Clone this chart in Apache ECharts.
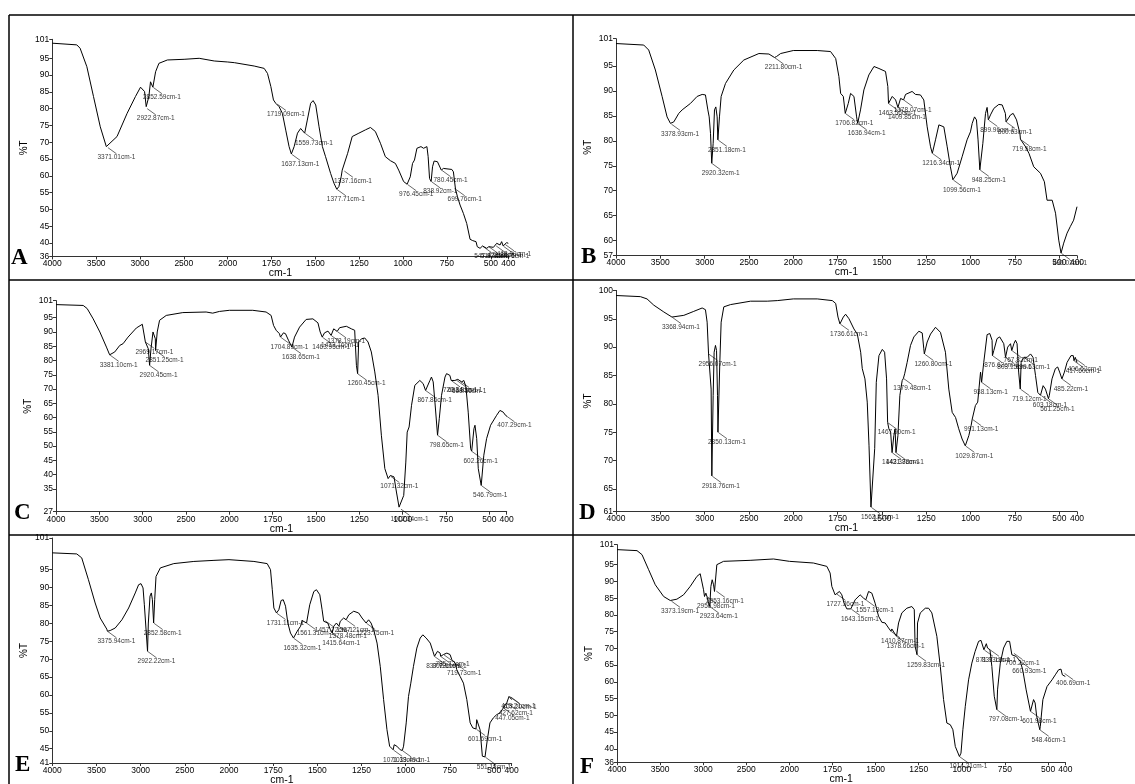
<!DOCTYPE html>
<html><head><meta charset="utf-8">
<script src="https://cdn.jsdelivr.net/npm/echarts@6/dist/echarts.min.js"></script>
<style>html,body{margin:0;padding:0;background:#fff}#c{width:1135px;height:784px}</style>
</head><body><div id="c"></div>
<script>
// ---------- DATA ----------
const xTicksHigh = [4000, 3500, 3000, 2500, 2000];
const xTicksLow = [1750, 1500, 1250, 1000, 750, 500, 400];
const panelLetters = ['A', 'B', 'C', 'D', 'E', 'F'];
const xName = 'cm-1';
const yName = '%T';

const yTicksA = [36,40,45,50,55,60,65,70,75,80,85,90,95]; const yTopA = '101';
const yTicksB = [57,60,65,70,75,80,85,90,95]; const yTopB = '101';
const yTicksC = [27,30,35,40,45,50,55,60,65,70,75,80,85,90,95]; const yTopC = '101';
const yTicksD = [61,65,70,75,80,85,90,95]; const yTopD = '100';
const yTicksE = [41,45,50,55,60,65,70,75,80,85,90,95]; const yTopE = '101';
const yTicksF = [36,40,45,50,55,60,65,70,75,80,85,90,95]; const yTopF = '101';

const specA = [[4000,99.5],[3721,99.0],[3683,98.0],[3606,92.5],[3530,83.6],[3453,74.6],[3384,68.7],[3371,68.5],[3262,71.7],[3147,78.6],[3052,83.6],[2994,86.4],[2975,86.4],[2948,85.1],[2929,80.6],[2918,80.1],[2899,83.6],[2880,88],[2868,88.5],[2853,86.4],[2842,86.8],[2822,91],[2784,93.5],[2688,94.5],[2497,94.7],[2325,95],[2153,94.2],[2000,93.9],[1962,93.7],[1849,92.7],[1792,92],[1773,90.5],[1754,86.6],[1739,82.6],[1726,81.6],[1719,81.4],[1707,80.6],[1688,78.6],[1669,73.6],[1650,68.7],[1637,66.5],[1621,68.7],[1602,72.7],[1584,74.1],[1574,74.6],[1561,72.7],[1555,73.2],[1546,76.6],[1527,81.6],[1513,82.4],[1498,81.1],[1479,74.6],[1460,68.7],[1442,65.7],[1413,60.7],[1394,57.8],[1378,56],[1366,56.8],[1353,59.7],[1347,61.7],[1341,62.2],[1337,61.5],[1316,66.7],[1290,71.7],[1252,72.7],[1214,73.7],[1186,74.4],[1158,73.2],[1129,69.7],[1101,65.7],[1072,64.5],[1044,63.7],[1025,61.7],[997,58.3],[977,57.5],[959,59.7],[946,63.7],[935,64.7],[921,68.2],[898,68.7],[883,68.2],[864,68.7],[857,65.7],[849,59.2],[840,58.3],[832,62.7],[823,64.4],[804,64.2],[793,63.7],[782,61.7],[770,62.2],[722,61.9],[713,61.2],[701,56],[690,53.8],[675,51.3],[656,48.8],[637,45.8],[618,41.1],[603,40.7],[584,40.4],[577,38.9],[561,38.4],[547,39.1],[523,38.4],[511,38.9],[485,38.7],[466,39.9],[447,39.4],[438,40.4],[429,39.1],[410,40.1],[400,39.9]];
const peaksA = [[3371.01,68.5],[2922.87,80.1],[2852.59,86.4],[1719.09,81.4],[1637.13,66.5],[1559.73,72.7],[1377.71,56],[1337.16,61.5],[976.45,57.5],[838.92,58.3],[780.45,61.7],[699.76,56],[547.92,39.1],[511.32,38.9],[471.26,39.2],[429.76,39.1],[418.90,39.6]];

const specB = [[4000,99.5],[3687,99.2],[3631,98.2],[3556,94.2],[3480,88.9],[3424,84.8],[3386,83.5],[3379,83.4],[3348,83.8],[3292,85.5],[3254,86.2],[3235,85.9],[3160,87.5],[3085,88.9],[3028,89.3],[2991,89.2],[2964,86.2],[2949,84.8],[2934,81.5],[2920,75.5],[2904,79.5],[2889,86.2],[2874,86.8],[2859,84.8],[2851,80.2],[2833,84.8],[2814,88.9],[2765,91.5],[2671,94.2],[2558,96.2],[2388,97.5],[2275,97.4],[2212,96.7],[2189,96.9],[2143,97.5],[2000,98.1],[1865,98.1],[1790,97.9],[1761,96.5],[1743,92.9],[1733,89.5],[1718,88.9],[1707,85.5],[1690,87.5],[1677,89.5],[1668,89.9],[1658,88.9],[1643,84.8],[1637,83.5],[1621,86.2],[1602,90.2],[1574,93.2],[1545,94.9],[1517,94.5],[1480,93.9],[1467,90.9],[1463,87.5],[1455,87.8],[1442,88.9],[1423,88.2],[1410,86.7],[1405,86.9],[1395,88.5],[1378,88.2],[1367,89.3],[1330,89.9],[1311,89.3],[1283,89.2],[1264,88.2],[1245,82.8],[1226,78.8],[1216,77.5],[1198,80.2],[1179,83.2],[1151,82.8],[1132,78.8],[1114,74.8],[1100,72.2],[1076,73.5],[1048,76.8],[1020,80.2],[1001,81.8],[991,83.5],[978,84.8],[967,84.2],[958,80.2],[948,74.2],[931,79.5],[916,85.5],[907,86.7],[900,84.2],[888,85.2],[869,86.5],[841,87.3],[822,87.2],[804,85.5],[800,83.8],[775,85.2],[760,85.5],[741,84.2],[722,81.5],[719,80.3],[709,79.8],[690,78.8],[671,77.5],[644,74.8],[606,73.5],[584,71.8],[569,68.1],[540,68.1],[521,65.5],[503,60.1],[490,57.5],[475,59.5],[456,61.5],[438,62.8],[419,64.1],[400,66.8]];
const peaksB = [[3378.93,83.4],[2920.32,75.5],[2851.18,80.2],[2211.80,96.7],[1706.82,85.5],[1636.94,83.5],[1463.56,87.5],[1409.85,86.7],[1378.07,88.2],[1216.34,77.5],[1099.56,72.2],[948.25,74.2],[899.96,84.2],[800.63,83.8],[719.58,80.3],[490.02,57.5]];

const specC = [[4000,99.6],[3686,99.3],[3640,98.2],[3571,94.6],[3494,90],[3418,84.7],[3381,82],[3322,83],[3264,85.3],[3226,85.9],[3169,88.2],[3073,91.4],[3004,92.7],[2988,92.4],[2969,86.5],[2950,86.9],[2935,84.1],[2920,78.3],[2904,84.1],[2881,90],[2870,90.3],[2854,87.6],[2851,83.5],[2832,90],[2805,94.1],[2728,95.8],[2537,96.8],[2268,97],[2192,96.6],[2115,97.2],[2000,97.6],[1865,97.6],[1788,97],[1759,95.8],[1745,92.3],[1730,90.6],[1711,89.4],[1705,88.2],[1688,89.7],[1676,89.4],[1659,87.1],[1639,84.7],[1624,88.2],[1595,91.7],[1557,94.4],[1518,94.6],[1489,93.2],[1476,90],[1464,88.2],[1451,89.7],[1431,90.3],[1413,88.8],[1398,91.1],[1378,90.2],[1364,91.5],[1325,92],[1296,91.1],[1277,90.6],[1267,78.3],[1260,75.4],[1254,86.5],[1238,87.6],[1219,87.9],[1200,86.5],[1181,83],[1161,76],[1142,67.8],[1123,53.8],[1103,42.1],[1084,38.6],[1071,39.7],[1050,39.2],[1036,33.9],[1021,28.6],[1012,28],[994,32.7],[982,44.4],[974,54.9],[963,56.7],[949,64.3],[930,71.3],[901,73],[882,71.9],[868,69.5],[843,73],[834,74.2],[824,72.5],[814,65.4],[799,53.8],[789,59.6],[776,67.8],[756,74.2],[747,75.4],[728,74.8],[720,73],[699,73],[682,73.4],[660,72.5],[647,73],[635,70.7],[622,61.9],[608,49.1],[602,48.2],[589,56.1],[583,57.3],[573,52.6],[564,42.1],[547,36.2],[532,46.8],[516,52.6],[493,57.3],[458,60.8],[439,62.5],[429,63.1],[420,61.9],[407,60.8],[400,60.5]];
const peaksC = [[3381.10,82],[2969.17,86.5],[2920.45,78.3],[2851.25,83.5],[1704.89,88.2],[1638.65,84.7],[1463.95,88.2],[1413.16,88.8],[1378.19,90.2],[1260.45,75.4],[1071.32,39.5],[1012.34,28],[867.86,69.5],[798.65,53.8],[720.34,73],[691.81,73.2],[668.56,72.8],[602.26,48.2],[546.79,36.2],[407.29,60.8]];

const specD = [[4000,99.1],[3725,98.9],[3650,98.5],[3574,97.4],[3461,96.2],[3369,95.3],[3348,95.3],[3235,95.6],[3123,96.3],[3028,96.9],[2991,96.6],[2972,94.4],[2956,88.8],[2942,88.5],[2927,82.6],[2919,67.3],[2904,81.5],[2893,89.1],[2878,90.3],[2866,89.4],[2855,81.5],[2850,75],[2829,87.3],[2814,94.4],[2784,97.1],[2708,97.5],[2482,98.1],[2294,98.1],[2181,98.2],[2000,98.5],[1865,98.5],[1780,98.2],[1761,97.7],[1748,95.3],[1737,94.1],[1718,95.3],[1705,95.8],[1686,95],[1658,93.2],[1639,92.3],[1620,89.1],[1611,86.2],[1596,84.4],[1583,80.3],[1573,72.6],[1562,61.8],[1551,61.8],[1541,72.1],[1532,83.8],[1517,88.5],[1498,89.6],[1485,89.1],[1474,84.4],[1468,76.7],[1461,75.6],[1451,75],[1443,71.4],[1433,74.4],[1426,75.6],[1421,71.4],[1410,74.4],[1399,81.5],[1386,84.1],[1379,84.5],[1372,85.3],[1358,87.3],[1339,90.3],[1320,91.8],[1292,92.8],[1273,92.5],[1264,89.7],[1261,88.8],[1245,90.9],[1226,92.3],[1198,93.5],[1170,92.6],[1142,89.1],[1123,82.6],[1104,78.5],[1085,77.6],[1067,75.6],[1048,73.8],[1030,72.6],[1010,74.4],[997,76.2],[991,77.3],[973,79.7],[960,80.3],[944,85.6],[938,83.8],[926,87.3],[907,92.2],[892,92.4],[879,91.2],[877,88.5],[869,89.4],[851,91.5],[836,91.8],[813,90.6],[803,88.2],[791,90],[775,90.6],[768,89.4],[756,90.6],[747,91.2],[738,90.6],[729,85.6],[720,82.6],[715,87.3],[700,88.2],[681,88.2],[662,88.8],[648,88.2],[634,85],[621,82],[606,81.5],[591,83.2],[578,82.6],[561,80.9],[556,81.5],[541,84.4],[522,86.2],[509,86.5],[498,85.6],[485,84.4],[471,85.6],[456,87.3],[434,88.5],[421,88.5],[417,87.6],[410,88.2],[406,87.9],[400,87.3]];
const peaksD = [[3368.94,95.3],[2956.07,88.8],[2918.76,67.3],[2850.13,75],[1736.61,94.1],[1562.21,61.8],[1467.90,76.7],[1443.38,71.4],[1421.78,71.4],[1379.48,84.5],[1260.80,88.8],[1029.87,72.6],[991.13,77.3],[938.13,83.8],[876.62,88.5],[803.15,88.2],[767.82,89.4],[719.12,82.6],[699.63,88.2],[603.18,81.5],[561.25,80.9],[485.22,84.4],[417.60,87.6],[406.62,87.9]];

const specE = [[4000,99.7],[3723,99.4],[3667,98.3],[3591,92.2],[3515,85.7],[3458,81.5],[3383,78.4],[3376,77.8],[3345,78],[3288,78.7],[3212,81],[3136,84.3],[3061,88.5],[3023,90.8],[2996,91.1],[2973,89.9],[2958,85.2],[2943,84.8],[2922,72.2],[2913,80.1],[2894,87.6],[2879,88.5],[2867,86.6],[2853,80.1],[2841,86.6],[2826,93.1],[2777,95.5],[2625,96.7],[2398,97.3],[2170,97.6],[2000,97.8],[1859,97.3],[1784,96.7],[1765,95],[1755,89.4],[1746,84.3],[1731,82.9],[1718,83.8],[1705,86.4],[1693,86.6],[1680,84.8],[1667,80.1],[1652,77.3],[1635,75.9],[1614,77.8],[1595,79.2],[1586,80.8],[1577,80.5],[1561,80.1],[1543,85.2],[1520,88.9],[1505,89.4],[1486,88],[1473,83.8],[1464,80.6],[1457,80.8],[1441,80.1],[1426,78.2],[1416,77.3],[1407,79.2],[1392,80.1],[1378,79.2],[1370,80.6],[1351,81.5],[1337,81],[1322,82.4],[1294,83.4],[1266,82.9],[1247,81.5],[1224,80.1],[1210,81],[1196,80.1],[1181,78.2],[1162,74.5],[1144,68],[1125,58.7],[1106,50.3],[1091,45.7],[1071,44.7],[1065,46.1],[1050,45.7],[1031,44.7],[1019,44.5],[1012,45.7],[997,52.2],[984,59.6],[971,63.3],[956,68],[937,73.1],[918,75.9],[903,76.8],[884,75.9],[861,74.5],[846,72.2],[837,70.8],[820,72.2],[805,71.7],[802,70.8],[786,71.3],[767,71.7],[749,71.3],[739,69.9],[720,68.9],[711,67.1],[692,65.2],[673,63.3],[654,58.7],[635,52.2],[620,50.8],[602,50.5],[598,53.1],[588,53.6],[579,50.3],[566,42.9],[551,42.7],[538,47.5],[523,52.2],[504,53.6],[485,54.5],[466,55],[447,56.4],[428,57.8],[415,59.6],[410,59.8],[400,58.7]];
const peaksE = [[3375.94,77.8],[2922.22,72.2],[2852.58,80.1],[1731.11,82.9],[1635.32,75.9],[1561.31,80.1],[1457.72,80.8],[1415.64,77.3],[1378.48,79.2],[1337.21,81],[1223.75,80.1],[1071.33,44.7],[1019.49,44.5],[837.72,70.8],[802.61,70.8],[785.72,71.3],[719.73,68.9],[601.69,50.5],[551.18,42.7],[447.05,56.4],[427.62,57.8],[413.21,59.6],[407.20,59.5]];

const specF = [[4000,99.5],[3768,99.2],[3710,98],[3633,93.5],[3556,89],[3459,85.5],[3382,84.3],[3373,84.2],[3305,84.7],[3228,86],[3151,88.5],[3073,91.5],[3035,92.3],[3015,92],[2996,87.5],[2985,85.5],[2969,86.5],[2957,85.5],[2938,83.5],[2924,82.5],[2911,88.5],[2896,90.5],[2880,89],[2869,87],[2853,87.2],[2842,95],[2764,96],[2456,96.3],[2185,96.7],[2000,96],[1861,95.5],[1783,94.5],[1764,92.5],[1754,88.5],[1735,86],[1727,86.3],[1710,87],[1696,86],[1683,83.5],[1667,81.8],[1644,81.8],[1619,84.5],[1590,86],[1570,85],[1557,84.5],[1541,87],[1522,86.5],[1503,83.5],[1483,79.6],[1464,77.8],[1445,77.6],[1425,76.1],[1411,75.1],[1406,75.8],[1396,75.6],[1379,73.6],[1367,77.6],[1348,80.6],[1319,82],[1290,82.5],[1276,81.6],[1271,70.6],[1260,68.1],[1257,77.6],[1241,80.6],[1212,82],[1193,82],[1174,80.6],[1145,73.6],[1125,64.6],[1106,54.7],[1087,47.7],[1067,47.2],[1052,45.7],[1038,40.7],[1014,37.7],[1005,38.7],[994,45.7],[980,52.7],[961,60.6],[942,65.6],[923,69.1],[903,72.1],[889,72.4],[872,69.6],[858,71.4],[851,70.1],[837,69.6],[826,64.6],[812,55.7],[797,51.7],[793,57.6],[777,65.6],[758,70.1],[739,72.1],[723,72.1],[710,68.1],[700,68.6],[685,67.6],[661,66.1],[647,63.6],[627,57.6],[602,51.2],[595,51.7],[584,54.7],[575,53.7],[566,49.7],[548,45.7],[545,46.7],[530,54.7],[506,58.6],[477,60.6],[458,62.1],[439,63.6],[425,63.8],[417,62.1],[407,62.6],[400,61.6]];
const peaksF = [[3373.19,84.2],[2956.98,85.5],[2923.64,82.5],[2853.16,87.2],[1727.36,86.3],[1643.15,81.8],[1557.13,84.5],[1410.87,75.1],[1378.66,73.6],[1259.83,68.1],[1014.21,37.7],[871.93,69.6],[837.13,69.6],[797.08,51.7],[700.22,68.6],[660.93,66.1],[601.98,51.2],[548.46,45.7],[406.69,62.6]];

// ---------- LAYOUT (pixel boxes & scale extents) ----------
const panels = [
  {spec: specA, peaks: peaksA, yTicks: yTicksA, yTop: yTopA, L: 52.3, R: 508.3, T: 39.3, B: 256.4, yMin: 36, yMax: 100.66, lx: 11, ly: 270},
  {spec: specB, peaks: peaksB, yTicks: yTicksB, yTop: yTopB, L: 616, R: 1077, T: 38.7, B: 255.6, yMin: 57, yMax: 100.47, lx: 581, ly: 269},
  {spec: specC, peaks: peaksC, yTicks: yTicksC, yTop: yTopC, L: 56, R: 506.7, T: 300.6, B: 511.7, yMin: 27, yMax: 101, lx: 14, ly: 525},
  {spec: specD, peaks: peaksD, yTicks: yTicksD, yTop: yTopD, L: 616, R: 1077, T: 290.4, B: 511.6, yMin: 61, yMax: 100, lx: 579, ly: 525},
  {spec: specE, peaks: peaksE, yTicks: yTicksE, yTop: yTopE, L: 52.3, R: 511.7, T: 538, B: 763, yMin: 41, yMax: 103.85, lx: 15, ly: 777},
  {spec: specF, peaks: peaksF, yTicks: yTicksF, yTop: yTopF, L: 617, R: 1065.3, T: 544.6, B: 762.2, yMin: 36, yMax: 101, lx: 580, ly: 779}
];

const FONT = 'Liberation Sans, Arial, sans-serif';
const axisColor = '#333';
const grid = [], xAxis = [], yAxis = [], series = [], graphic = [];

function peakSeries(data, gi) {
  return {
    type: 'scatter', xAxisIndex: gi, yAxisIndex: gi, data: data, silent: true,
    symbol: 'circle', symbolSize: 1, itemStyle: {color: 'rgba(0,0,0,0)'},
    label: {show: true, position: 'inside', fontSize: 6.5, color: '#000', fontFamily: FONT,
      formatter: p => p.value[0].toFixed(2) + 'cm-1'},
    labelLayout: {dx: 9, dy: 10},
    labelLine: {show: true, lineStyle: {color: '#000', width: 0.6}}
  };
}

const plain = v => String(v);

panels.forEach((p, i) => {
  const split = p.L + (p.R - p.L) * 5 / 13;
  const gi = i * 2;
  const h = p.B - p.T;
  grid.push({left: p.L, top: p.T, width: split - p.L, height: h});
  grid.push({left: split, top: p.T, width: p.R - split, height: h});
  const common = {
    type: 'value', splitLine: {show: false},
    axisLine: {show: true, lineStyle: {color: axisColor, width: 1}},
    axisTick: {show: true, length: 3, lineStyle: {color: axisColor}},
    axisLabel: {fontSize: 8.5, color: '#000', fontFamily: FONT, margin: 3, showMinLabel: true, showMaxLabel: true, formatter: plain}
  };
  xAxis.push(Object.assign({}, common, {gridIndex: gi, min: 2000, max: 4000, inverse: true, interval: 500,
    axisLabel: Object.assign({}, common.axisLabel, {customValues: xTicksHigh}),
    axisTick: Object.assign({}, common.axisTick, {customValues: xTicksHigh})}));
  xAxis.push(Object.assign({}, common, {gridIndex: gi + 1, min: 400, max: 2000, inverse: true,
    axisLabel: Object.assign({}, common.axisLabel, {customValues: xTicksLow}),
    axisTick: Object.assign({}, common.axisTick, {customValues: xTicksLow})}));
  const yVals = p.yTicks.concat([p.yMax]);
  yAxis.push(Object.assign({}, common, {gridIndex: gi, min: p.yMin, max: p.yMax,
    name: yName, nameLocation: 'middle', nameGap: 23, nameRotate: 90,
    nameTextStyle: {fontSize: 10, color: '#000', fontFamily: FONT},
    axisLabel: Object.assign({}, common.axisLabel, {customValues: yVals,
      formatter: v => (Math.abs(v - p.yMax) < 1e-6 ? p.yTop : String(v))}),
    axisTick: Object.assign({}, common.axisTick, {customValues: yVals})}));
  yAxis.push({type: 'value', gridIndex: gi + 1, min: p.yMin, max: p.yMax, show: false});

  const hi = p.spec.filter(d => d[0] >= 2000);
  const lo = p.spec.filter(d => d[0] <= 2000);
  const lineStyle = {color: '#000', width: 1};
  series.push({type: 'line', xAxisIndex: gi, yAxisIndex: gi, data: hi, showSymbol: false, symbol: 'none', lineStyle, silent: true});
  series.push({type: 'line', xAxisIndex: gi + 1, yAxisIndex: gi + 1, data: lo, showSymbol: false, symbol: 'none', lineStyle, silent: true});
  series.push(peakSeries(p.peaks.filter(d => d[0] >= 2000), gi));
  series.push(peakSeries(p.peaks.filter(d => d[0] < 2000), gi + 1));

  graphic.push({type: 'text', x: (p.L + p.R) / 2, y: p.B + 17,
    style: {text: xName, font: '10.5px ' + FONT, fill: '#000', textAlign: 'center', textVerticalAlign: 'middle'}});
  graphic.push({type: 'text', x: p.lx, y: p.ly,
    style: {text: panelLetters[i], font: 'bold 23px Liberation Serif, Times New Roman, serif', fill: '#000', textAlign: 'left', textVerticalAlign: 'bottom'}});
});

// frame lines
const frame = [[9, 15, 1135, 15], [9, 15, 9, 784], [573, 15, 573, 784], [9, 280, 1135, 280], [9, 535, 1135, 535]];
frame.forEach(f => graphic.push({type: 'line', shape: {x1: f[0], y1: f[1], x2: f[2], y2: f[3]},
  style: {stroke: '#000', lineWidth: 1.5}, silent: true}));

const chart = echarts.init(document.getElementById('c'), null, {renderer: 'canvas'});
chart.setOption({animation: false, backgroundColor: '#fff', grid, xAxis, yAxis, series, graphic});
</script>
</body></html>
